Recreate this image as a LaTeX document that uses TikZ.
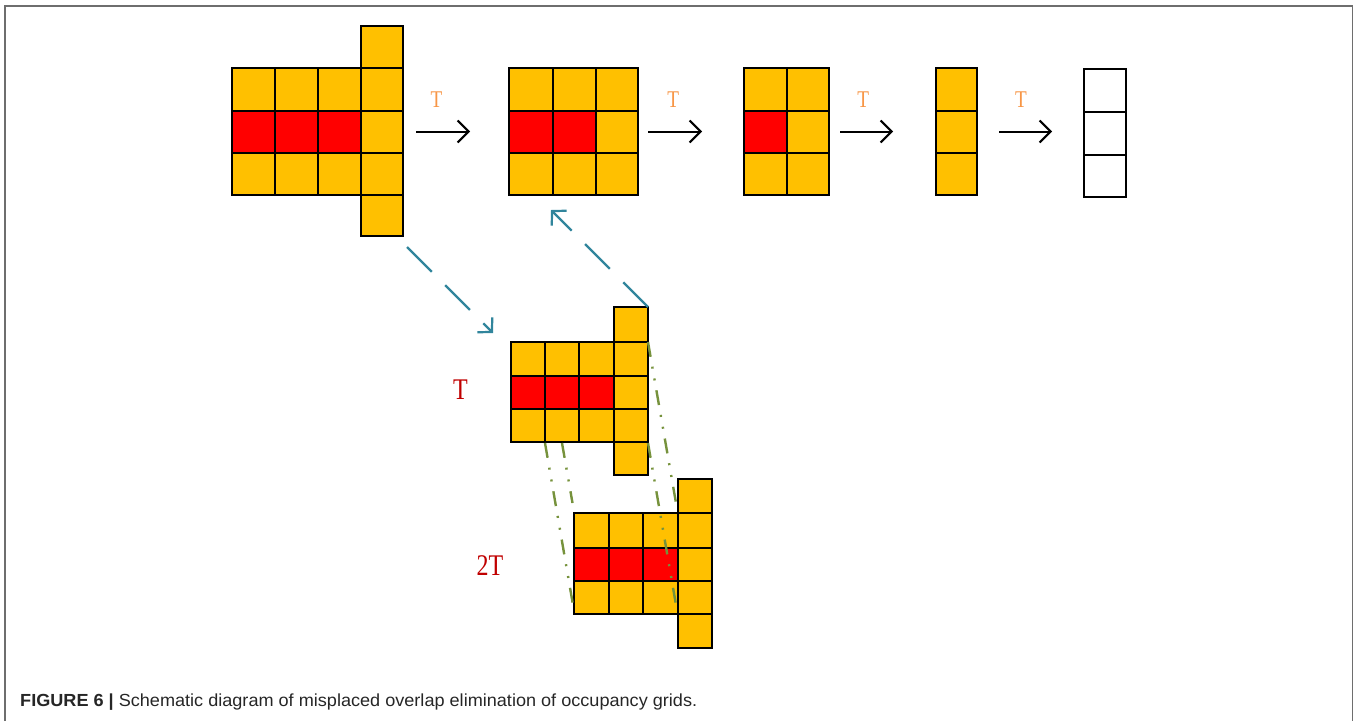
\documentclass[tikz,border=0pt]{standalone}
\usepackage{fontspec}
\usepackage{graphicx}
\setmainfont{Liberation Serif}
\newfontfamily\capfont{Liberation Sans}
\usetikzlibrary{arrows.meta}

\definecolor{cellyellow}{RGB}{255,192,0}
\definecolor{cellred}{RGB}{255,0,0}
\definecolor{steporange}{RGB}{247,150,70}
\definecolor{labelred}{RGB}{192,0,0}
\definecolor{shiftblue}{RGB}{49,133,156}
\definecolor{guidegreen}{RGB}{118,146,60}
\definecolor{framegray}{RGB}{110,110,110}

\tikzset{
  ycell/.style={draw=black, fill=cellyellow, line width=2.8pt, line join=miter},
  rcell/.style={draw=black, fill=cellred, line width=2.8pt, line join=miter},
  wcell/.style={draw=black, fill=white, line width=2.8pt, line join=miter},
  steparrow/.style={draw=black, line width=2pt, -{Straight Barb[length=11pt,width=22pt]}},
  steplabel/.style={text=steporange, inner sep=0pt, font=\fontsize{24}{24}\selectfont},
  shiftlabel/.style={text=labelred, inner sep=0pt, font=\fontsize{30}{30}\selectfont},
  shiftarrow/.style={draw=shiftblue, line width=2.2pt, dash pattern=on 35pt off 19pt,
    -{Straight Barb[length=10pt,width=21pt]}},
  guideline/.style={draw=guidegreen, line width=2.4pt,
    dash pattern=on 15pt off 10pt on 2pt off 10pt on 2pt off 10pt},
  frameline/.style={draw=framegray, line width=1.5pt}
}

\begin{document}
\begin{tikzpicture}[x=1pt, y=-1pt]
  \useasboundingbox (0,0) rectangle (1357,721);

  % outer frame (open at the bottom)
  \draw[frameline] (5,721) -- (5,6) -- (1352.5,6) -- (1352.5,721);

  % ---- grid A: 3x3 block plus a 5-cell column ----
  \foreach \xa/\xb in {232/275,275/318,318/361}{
    \foreach \ya/\yb/\s in {68/111/ycell,111/153/rcell,153/195/ycell}{
      \path[\s] (\xa,\ya) rectangle (\xb,\yb);
    }
  }
  \foreach \ya/\yb in {26/68,68/111,111/153,153/195,195/236}{
    \path[ycell] (361,\ya) rectangle (403,\yb);
  }

  % ---- grid B ----
  \foreach \xa/\xb/\s in {509/553/rcell,553/596/rcell,596/638/ycell}{
    \path[ycell] (\xa,68) rectangle (\xb,111);
    \path[\s] (\xa,111) rectangle (\xb,153);
    \path[ycell] (\xa,153) rectangle (\xb,195);
  }

  % ---- grid C ----
  \foreach \xa/\xb/\s in {744/787/rcell,787/829/ycell}{
    \path[ycell] (\xa,68) rectangle (\xb,111);
    \path[\s] (\xa,111) rectangle (\xb,153);
    \path[ycell] (\xa,153) rectangle (\xb,195);
  }

  % ---- grid D ----
  \foreach \ya/\yb in {68/111,111/153,153/195}{
    \path[ycell] (936,\ya) rectangle (977,\yb);
  }

  % ---- grid E (empty) ----
  \foreach \ya/\yb in {69/112,112/155,155/197}{
    \path[wcell] (1084,\ya) rectangle (1126,\yb);
  }

  % ---- step arrows and labels ----
  \coordinate (s1a) at (416,131.5);  \coordinate (s1b) at (470,131.5);
  \coordinate (s2a) at (648,131.5);  \coordinate (s2b) at (702,131.5);
  \coordinate (s3a) at (840,131.5);  \coordinate (s3b) at (893,131.5);
  \coordinate (s4a) at (999,131.5);  \coordinate (s4b) at (1052,131.5);
  \draw[steparrow] (s1a) -- (s1b);
  \draw[steparrow] (s2a) -- (s2b);
  \draw[steparrow] (s3a) -- (s3b);
  \draw[steparrow] (s4a) -- (s4b);
  \node[steplabel] (t1) at (436.5,100) {\scalebox{0.8}[1]{T}};
  \node[steplabel] (t2) at (673.3,100) {\scalebox{0.8}[1]{T}};
  \node[steplabel] (t3) at (863.3,100) {\scalebox{0.8}[1]{T}};
  \node[steplabel] (t4) at (1021,100) {\scalebox{0.8}[1]{T}};

  % ---- grid F: shifted by T ----
  \foreach \xa/\xb in {511/545,545/579,579/614}{
    \path[ycell] (\xa,342) rectangle (\xb,376);
    \path[rcell] (\xa,376) rectangle (\xb,409);
    \path[ycell] (\xa,409) rectangle (\xb,442);
  }
  \foreach \ya/\yb in {307/342,342/376,376/409,409/442,442/475}{
    \path[ycell] (614,\ya) rectangle (648,\yb);
  }
  \node[shiftlabel] (lt) at (460.5,390) {\scalebox{0.8}[1]{T}};

  % ---- grid G: shifted by 2T ----
  \foreach \xa/\xb in {574/609,609/643,643/678}{
    \path[ycell] (\xa,513) rectangle (\xb,548);
    \path[rcell] (\xa,548) rectangle (\xb,581);
    \path[ycell] (\xa,581) rectangle (\xb,614);
  }
  \foreach \ya/\yb in {479/513,513/548,548/581,581/614,614/648}{
    \path[ycell] (678,\ya) rectangle (712,\yb);
  }
  \node[shiftlabel] (l2t) at (490,566) {\scalebox{0.8}[1]{2T}};

  % ---- guide lines between F and G ----
  \coordinate (g1a) at (545,443);   \coordinate (g1b) at (573,605);
  \coordinate (g2a) at (562,443);   \coordinate (g2b) at (572.5,503);
  \coordinate (g3a) at (648,342);   \coordinate (g3b) at (676,503);
  \coordinate (g4a) at (648,443);   \coordinate (g4b) at (676,605);
  \draw[guideline] (g1a) -- (g1b);
  \draw[guideline] (g2a) -- (g2b);
  \draw[guideline] (g3a) -- (g3b);
  \draw[guideline] (g4a) -- (g4b);

  % ---- shift arrows ----
  \coordinate (d1a) at (407,247);   \coordinate (d1b) at (493,333);
  \coordinate (d2a) at (648,307);   \coordinate (d2b) at (551,210);
  \draw[shiftarrow] (d1a) -- (d1b);
  \draw[shiftarrow] (d2a) -- (d2b);

  % ---- caption ----
  \node[anchor=base west, inner sep=0pt, font=\capfont\fontsize{17.5}{20}\selectfont, text=black!85]
    (caption) at (20,706.5)
    {\resizebox{677pt}{\height}{\textbf{FIGURE 6 |} Schematic diagram of misplaced overlap elimination of occupancy grids.}};
\end{tikzpicture}
\end{document}
